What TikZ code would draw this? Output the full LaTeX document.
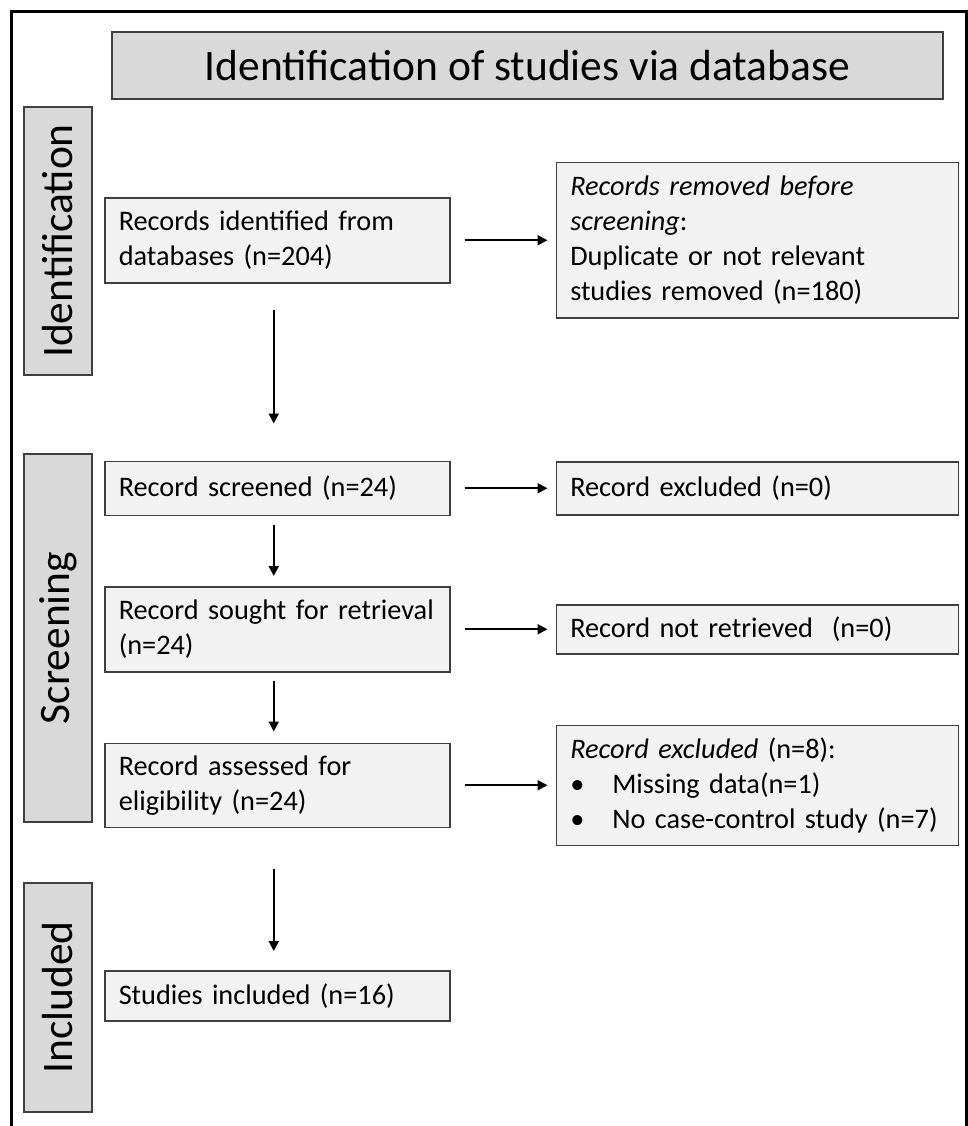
\documentclass[tikz,border=0pt]{standalone}
\usepackage{fontspec}
\setmainfont{Carlito}
\usetikzlibrary{arrows.meta,positioning}
\definecolor{hdrgray}{HTML}{D9D9D9}
\definecolor{boxgray}{HTML}{F2F2F2}
\definecolor{edgegray}{HTML}{3F3F3F}

\begin{document}
\begin{tikzpicture}[x=1pt,y=-1pt,>={Triangle[length=10pt,width=10pt]},node distance=70pt]
  \tikzstyle{box}=[draw=edgegray,line width=1.5pt,fill=boxgray,align=left,inner xsep=14pt,inner ysep=0pt,font=\fontsize{28.3}{35}\selectfont]
  \tikzstyle{lbox}=[box,text width=317pt]
  \tikzstyle{rbox}=[box,text width=374pt]
  \tikzstyle{side}=[draw=edgegray,line width=1.5pt,fill=hdrgray,rotate=90,minimum height=68pt,font=\fontsize{43.5}{43.5}\selectfont]
  \tikzstyle{flow}=[line width=2pt,->]
  \useasboundingbox (0,0) rectangle (968,1126);
  \draw[line width=3pt] (11,1140) -- (11,12) -- (966,12) -- (966,1140);
  \node[draw=edgegray,line width=1.5pt,fill=hdrgray,minimum width=831pt,minimum height=67pt,font=\fontsize{43.5}{43.5}\selectfont] (hdr) at (527.5,65.5) {Identification of studies via database};
  % left column
  \node[lbox,minimum height=85pt,anchor=north west] (rec) at (104,197) {Records identified from\\databases (n=204)};
  \node[lbox,minimum height=54pt,below=177pt of rec] (scr) {Record screened (n=24)};
  \node[lbox,minimum height=85pt,below=of scr] (sgt) {Record sought for retrieval\\(n=24)};
  \node[lbox,minimum height=84pt,below=of sgt] (ass) {Record assessed for\\eligibility (n=24)};
  \node[lbox,minimum height=50pt,below=142pt of ass] (inc) {Studies included (n=16)};
  % right column
  \node[rbox,minimum height=155pt,right=105pt of rec] (rem) {\textit{Records removed before}\\\textit{screening}:\\Duplicate or not relevant\\studies removed (n=180)};
  \node[rbox,minimum height=53pt,right=105pt of scr] (exc) {Record excluded (n=0)};
  \node[rbox,minimum height=49pt,right=105pt of sgt] (nret) {Record not retrieved\ \ (n=0)};
  \node[rbox,minimum height=120pt,right=105pt of ass] (exc8) {\textit{Record excluded} (n=8):\\\makebox[42pt][l]{\textbullet}Missing data(n=1)\\\makebox[42pt][l]{\textbullet}No case-control study (n=7)};
  % phases
  \node[side,minimum width=268pt] (idl) at (58,241) {Identification};
  \node[side,minimum width=368pt] (scl) at (58,638) {Screening};
  \node[side,minimum width=229pt] (incl) at (58,997.5) {Included};
  % arrows
  \draw[flow,shorten <=14pt,shorten >=8pt] (rec.east) -- (rec.east -| rem.west);
  \draw[flow,shorten <=14pt,shorten >=8pt] (scr.east) -- (scr.east -| exc.west);
  \draw[flow,shorten <=14pt,shorten >=8pt] (sgt.east) -- (sgt.east -| nret.west);
  \draw[flow,shorten <=14pt,shorten >=8pt] (ass.east) -- (ass.east -| exc8.west);
  \draw[flow,shorten <=26pt,shorten >=37pt] ([xshift=-3.5pt]rec.south) -- ([xshift=-3.5pt]scr.north);
  \draw[flow,shorten <=9pt,shorten >=10pt] ([xshift=-3.5pt]scr.south) -- ([xshift=-3.5pt]sgt.north);
  \draw[flow,shorten <=8pt,shorten >=11pt] ([xshift=-3.5pt]sgt.south) -- ([xshift=-3.5pt]ass.north);
  \draw[flow,shorten <=41pt,shorten >=19pt] ([xshift=-3.5pt]ass.south) -- ([xshift=-3.5pt]inc.north);
\end{tikzpicture}
\end{document}
